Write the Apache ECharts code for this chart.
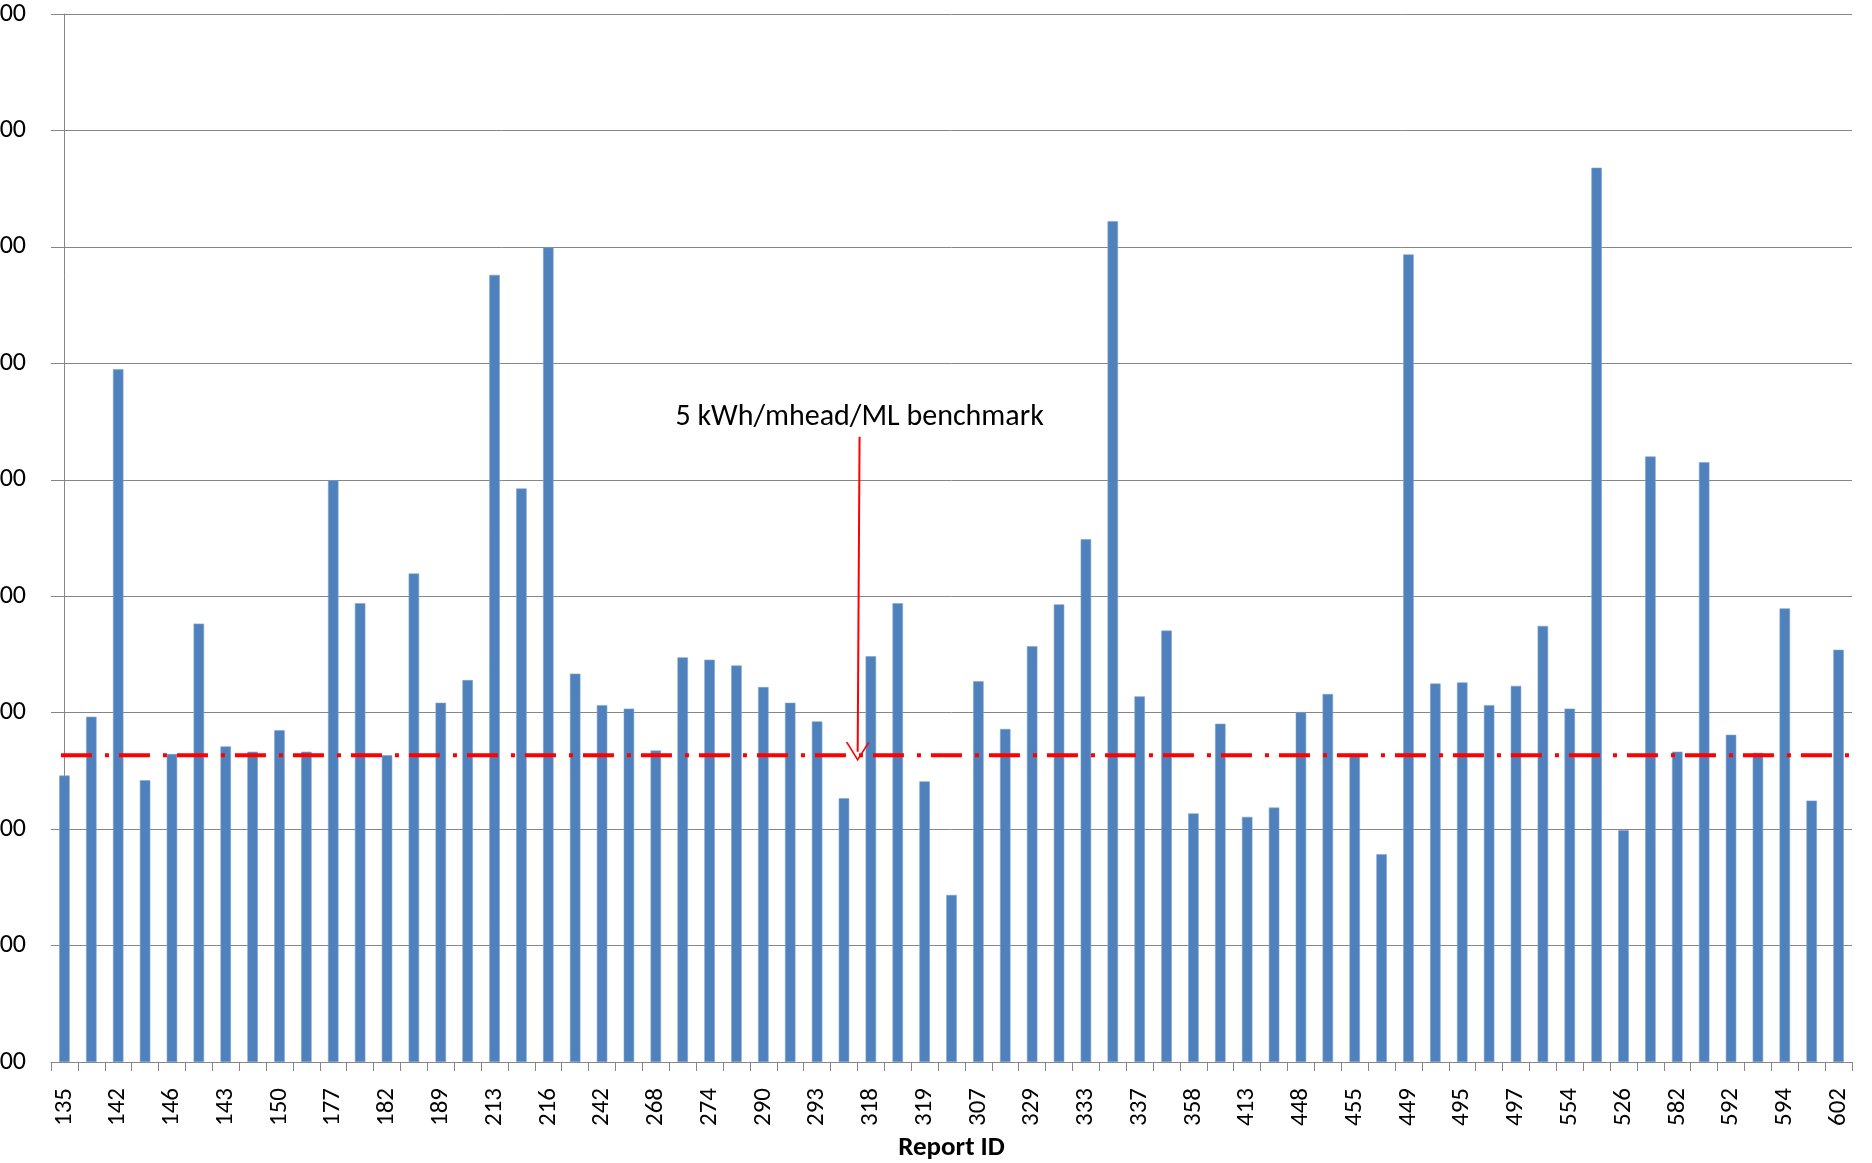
<!DOCTYPE html>
<html>
<head>
<meta charset="utf-8">
<script src="https://cdn.jsdelivr.net/npm/echarts@6/dist/echarts.min.js"></script>
<style>
html,body{margin:0;padding:0;background:#fff;}
#c{width:1872px;height:1163px;}
</style>
</head>
<body>
<div id="c"></div>
<script>
// Report IDs (only every other one is printed on the axis; '' = unprinted)
const reportIds = ['135','','142','','146','','143','','150','','177','','182','','189','','213','','216','','242','','268','','274','','290','','293','','318','','319','','307','','329','','333','','337','','358','','413','','448','','455','','449','','495','','497','','554','','526','','582','','592','','594','','602'];
const values = [4.92,5.93,11.90,4.84,5.29,7.53,5.42,5.33,5.70,5.33,
  9.99,7.88,5.27,8.39,6.17,6.56,13.52,9.85,13.99,6.67,
  6.13,6.07,5.35,6.95,6.91,6.81,6.44,6.17,5.85,4.53,
  6.97,7.88,4.82,2.87,6.54,5.72,7.14,7.86,8.98,14.44,
  6.28,7.41,4.27,5.81,4.21,4.37,6.01,6.32,5.29,3.57,
  13.87,6.50,6.52,6.13,6.46,7.49,6.07,15.36,3.98,10.40,
  5.33,10.30,5.62,5.31,7.79,4.49,7.08];
const yMin = 0, yMax = 18, yStep = 2;
const benchmarkValue = 5.27;
const benchmarkSpan = [-0.13, 66.5];          // in category-index units
const arrowStart = [29.58, 10.74];
const arrowEnd = [29.51, 5.33];
const annotationText = '5 kWh/mhead/ML benchmark';
const xAxisTitle = 'Report ID';

const FONT = 'Carlito, "Noto Sans", sans-serif';
const chart = echarts.init(document.getElementById('c'));
chart.setOption({
  animation: false,
  backgroundColor: '#fff',
  grid: {left: 51, right: 20, top: 14, bottom: 101, containLabel: false, outerBoundsMode: 'none'},
  xAxis: [{
    type: 'category',
    data: reportIds,
    name: xAxisTitle,
    nameLocation: 'middle',
    nameGap: 73,
    nameTextStyle: {fontFamily: FONT, fontSize: 27, fontWeight: 'bold', color: '#000'},
    axisLine: {lineStyle: {color: '#868686', width: 1}},
    axisTick: {show: true, alignWithLabel: false, interval: 0, length: 9, lineStyle: {color: '#868686'}},
    axisLabel: {interval: 1, rotate: 90, margin: 26, fontFamily: FONT, fontSize: 25, color: '#000'},
    splitLine: {show: false}
  }, {
    type: 'value', min: -0.5, max: 66.5, show: false
  }],
  yAxis: {
    type: 'value',
    min: yMin, max: yMax, interval: yStep,
    axisLine: {show: true, lineStyle: {color: '#868686', width: 1}},
    axisTick: {show: true, length: 10, lineStyle: {color: '#868686'}},
    axisLabel: {margin: 25, fontFamily: FONT, fontSize: 26, color: '#000',
      formatter: v => v.toFixed(2)},
    splitLine: {show: true, lineStyle: {color: '#868686', width: 1}}
  },
  series: [{
    type: 'bar',
    data: values,
    barWidth: '39%',
    itemStyle: {color: '#4F81BD', borderColor: '#7ea2d0', borderWidth: 0.6}
  }, {
    type: 'line',
    xAxisIndex: 1,
    data: [[benchmarkSpan[0], benchmarkValue], [benchmarkSpan[1], benchmarkValue]],
    symbol: 'none',
    silent: true,
    lineStyle: {color: '#FF0000', width: 4, type: [31, 13, 4, 10]},
    z: 5,
    markLine: {
      silent: true,
      symbol: ['none', 'path://M11 0 L22 17 L20.3 17 L11 2.6 L1.7 17 L0 17 Z'],
      symbolSize: [24, 19],
      lineStyle: {color: '#FF0000', width: 2, type: 'solid'},
      label: {show: true, position: 'start', distance: 4, formatter: annotationText,
        fontFamily: FONT, fontSize: 30, color: '#000'},
      data: [[{coord: arrowStart}, {coord: arrowEnd}]]
    }
  }]
});
</script>
</body>
</html>
